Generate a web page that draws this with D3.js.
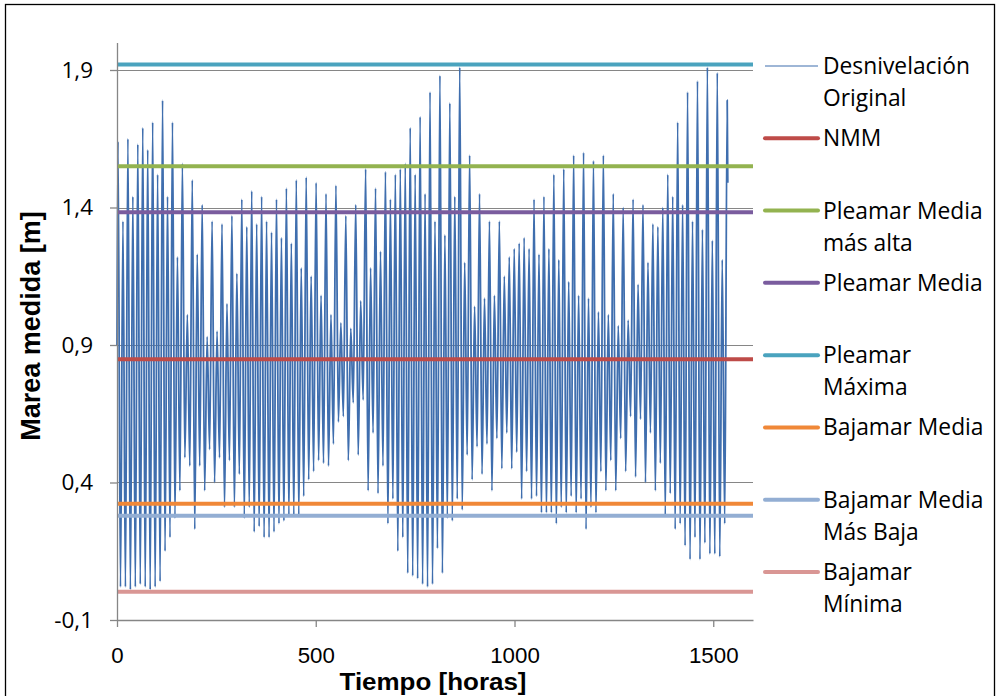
<!DOCTYPE html>
<html>
<head>
<meta charset="utf-8">
<script src="https://d3js.org/d3.v7.min.js"></script>
<style>
  html, body { margin: 0; padding: 0; background: #fff; }
  svg { display: block; }
</style>
</head>
<body>
<svg id="chart" width="1002" height="696"></svg>
<script>
// Tidal record: one high water and the following low water per tidal cycle (m)
const HIGH_WATER = [
  1.64, 1.35, 1.65, 1.44, 1.63, 1.69, 1.61, 1.71, 1.52, 1.79, 1.44, 1.71, 1.22, 1.56, 1.01, 1.50, 1.23, 1.41, 0.93, 1.35, 0.95,
  1.34, 1.05, 1.37, 1.16, 1.43, 1.33, 1.46, 1.34, 1.44, 1.35, 1.31, 1.43, 1.29, 1.47, 1.27, 1.50, 1.18, 1.51, 1.15, 1.49,
  1.08, 1.45, 1.01, 1.48, 0.98, 1.37, 0.96, 1.41, 1.06, 1.54, 1.18, 1.47, 1.24, 1.53, 1.43, 1.52, 1.54, 1.56, 1.69, 1.52,
  1.73, 1.45, 1.82, 1.35, 1.88, 1.30, 1.78, 1.44, 1.91, 1.20, 1.59, 1.04, 1.45, 1.07, 1.35, 1.08, 1.35, 1.15, 1.22, 1.25,
  1.27, 1.29, 1.25, 1.43, 1.23, 1.44, 1.25, 1.52, 1.21, 1.54, 1.13, 1.59, 1.08, 1.60, 1.07, 1.57, 1.02, 1.59, 1.01, 1.45, 0.97,
  1.40, 0.99, 1.43, 1.12, 1.41, 1.20, 1.34, 1.33, 1.40, 1.52, 1.44, 1.71, 1.41, 1.82, 1.35, 1.86, 1.32, 1.91, 1.28, 1.89, 1.21, 1.79
];
const LOW_WATER = [
  0.02, 0.02, 0.01, 0.02, 0.03, 0.02, 0.01, 0.02, 0.04, 0.15, 0.20, 0.27, 0.37, 0.49, 0.46, 0.23, 0.46, 0.37, 0.52, 0.40, 0.49,
  0.31, 0.48, 0.31, 0.43, 0.27, 0.31, 0.22, 0.24, 0.20, 0.20, 0.22, 0.25, 0.26, 0.28, 0.28, 0.28, 0.35, 0.41, 0.44, 0.48,
  0.47, 0.46, 0.54, 0.62, 0.64, 0.48, 0.69, 0.50, 0.70, 0.37, 0.58, 0.36, 0.46, 0.25, 0.34, 0.15, 0.20, 0.07, 0.06, 0.05,
  0.03, 0.02, 0.03, 0.16, 0.07, 0.27, 0.26, 0.34, 0.30, 0.50, 0.41, 0.53, 0.43, 0.54, 0.37, 0.56, 0.45, 0.58, 0.45, 0.51,
  0.34, 0.44, 0.34, 0.35, 0.29, 0.29, 0.29, 0.25, 0.31, 0.29, 0.35, 0.29, 0.34, 0.23, 0.31, 0.29, 0.44, 0.37, 0.48, 0.37, 0.56,
  0.44, 0.64, 0.42, 0.63, 0.40, 0.58, 0.37, 0.47, 0.28, 0.36, 0.23, 0.25, 0.17, 0.12, 0.20, 0.12, 0.18, 0.14, 0.14, 0.13, 0.25
];
const START_LEVEL = 0.90;     // level at hour 0
const END_LEVEL = 1.49;       // last reading after the final high water
const FIRST_HIGH_HOUR = 2.5;  // hour of the first high water
const TIDAL_CYCLE_H = 12.46;  // hours between successive high waters

// Reference tidal levels (m)
const LEVEL_NAMES = ["NMM", "Pleamar Media más alta", "Pleamar Media", "Pleamar Máxima",
                     "Bajamar Media", "Bajamar Media Más Baja", "Bajamar Mínima"];
const LEVEL_VALUES = [0.848, 1.55, 1.383, 1.92, 0.323, 0.279, 0.003];
const LEVEL_COLORS = ["#BE4B48", "#93B350", "#7A5C9E", "#4AA3BE", "#F08838", "#93AED3", "#D99694"];

// Legend entries, wrapped the way they are printed
const LEGEND_LINES = [
  ["Desnivelación", "Original"], ["NMM"], ["Pleamar Media", "más alta"], ["Pleamar Media"],
  ["Pleamar", "Máxima"], ["Bajamar Media"], ["Bajamar Media", "Más Baja"], ["Bajamar", "Mínima"]
];

const X_TICKS = [0, 500, 1000, 1500];
const Y_TICKS = [-0.1, 0.4, 0.9, 1.4, 1.9];
const SERIES_COLOR = "#3F6EAE";

// Build the time series from the high/low water readings
const series = [{ t: 0, v: START_LEVEL }];
HIGH_WATER.forEach((h, i) => {
  const tH = FIRST_HIGH_HOUR + i * TIDAL_CYCLE_H;
  series.push({ t: tH, v: h });
  if (i < LOW_WATER.length) series.push({ t: tH + TIDAL_CYCLE_H / 2, v: LOW_WATER[i] });
  else series.push({ t: tH + 1.5, v: END_LEVEL });
});

const svg = d3.select("#chart");
const plot = { left: 117, right: 753, top: 42.5, bottom: 620 };

const x = d3.scaleLinear().domain([0, 1600]).range([plot.left, plot.right]);
const y = d3.scaleLinear().domain([-0.1, 2.0]).range([plot.bottom, plot.top]);

const locale = d3.formatLocale({ decimal: ",", thousands: ".", grouping: [3], currency: ["", ""] });
const fmtY = v => locale.format(".1f")(v).replace("−", "-");

// Outer frame
svg.append("rect")
  .attr("x", 5.5).attr("y", 4.5).attr("width", 989).attr("height", 720)
  .attr("fill", "none").attr("stroke", "#000").attr("stroke-width", 1.3);

// Horizontal gridlines
svg.append("g").selectAll("line")
  .data(Y_TICKS.slice(1))
  .join("line")
  .attr("x1", plot.left).attr("x2", plot.right)
  .attr("y1", d => Math.round(y(d)) + 0.5).attr("y2", d => Math.round(y(d)) + 0.5)
  .attr("stroke", "#868686").attr("stroke-width", 1.2);

// Measured water level
const line = d3.line().x(d => x(d.t)).y(d => y(d.v)).curve(d3.curveMonotoneX);
svg.append("path")
  .datum(series)
  .attr("d", line)
  .attr("fill", "none")
  .attr("stroke", SERIES_COLOR)
  .attr("stroke-width", 1.8)
  .attr("stroke-linejoin", "round");

// Reference levels
svg.append("g").selectAll("line")
  .data(LEVEL_VALUES)
  .join("line")
  .attr("x1", plot.left).attr("x2", plot.right)
  .attr("y1", d => y(d)).attr("y2", d => y(d))
  .attr("stroke", (d, i) => LEVEL_COLORS[i])
  .attr("stroke-width", 4);

// Axes
const yAxis = d3.axisLeft(y).tickValues(Y_TICKS).tickSize(7).tickSizeOuter(0).tickPadding(17).tickFormat(fmtY);
const gy = svg.append("g").attr("transform", `translate(${plot.left},0)`).call(yAxis);
const xAxis = d3.axisBottom(x).tickValues(X_TICKS).tickSize(7).tickSizeOuter(0).tickFormat(d3.format("d"));
const gx = svg.append("g").attr("transform", `translate(0,${plot.bottom})`).call(xAxis);

[gx, gy].forEach(g => {
  g.select(".domain").attr("stroke", "#868686").attr("stroke-width", 1.3);
  g.selectAll(".tick line").attr("stroke", "#868686").attr("stroke-width", 1.3);
});
gy.selectAll(".tick text")
  .attr("font-family", "'Open Sans', sans-serif").attr("font-size", 22.5).attr("fill", "#000");
gx.selectAll(".tick text")
  .attr("font-family", "'Liberation Sans', Arial, sans-serif")
  .attr("font-size", 22).attr("fill", "#000")
  .attr("y", 43).attr("dy", 0)
  .attr("textLength", d => String(d).length * 12.4)
  .attr("lengthAdjust", "spacingAndGlyphs");

// Axis titles
svg.append("text")
  .attr("x", 433).attr("y", 690)
  .attr("text-anchor", "middle")
  .attr("font-family", "'Liberation Sans', Arial, sans-serif")
  .attr("font-weight", "bold").attr("font-size", 23.5)
  .attr("textLength", 187).attr("lengthAdjust", "spacingAndGlyphs")
  .text("Tiempo [horas]");
svg.append("text")
  .attr("transform", "translate(40,326) rotate(-90)")
  .attr("text-anchor", "middle")
  .attr("font-family", "'Liberation Sans', Arial, sans-serif")
  .attr("font-weight", "bold").attr("font-size", 27)
  .text("Marea medida [m]");

// Legend
const legendY = d3.scaleLinear().domain([0, LEGEND_LINES.length - 1]).range([66, 572]);
const legend = svg.append("g");
const entries = legend.selectAll("g")
  .data(LEGEND_LINES)
  .join("g")
  .attr("transform", (d, i) => `translate(0,${legendY(i)})`);
entries.append("line")
  .attr("x1", 765).attr("x2", 818)
  .attr("stroke", (d, i) => i === 0 ? SERIES_COLOR : LEVEL_COLORS[i - 1])
  .attr("stroke-width", (d, i) => i === 0 ? 1.2 : 4)
  .attr("stroke-linecap", (d, i) => i === 0 ? "butt" : "round");
entries.append("text")
  .attr("font-family", "'Open Sans', sans-serif").attr("font-size", 22.8).attr("fill", "#000")
  .selectAll("tspan")
  .data(d => d)
  .join("tspan")
  .attr("x", 823)
  .attr("y", (d, j) => j * 32)
  .attr("dy", "0.35em")
  .text(d => d);
</script>
</body>
</html>
